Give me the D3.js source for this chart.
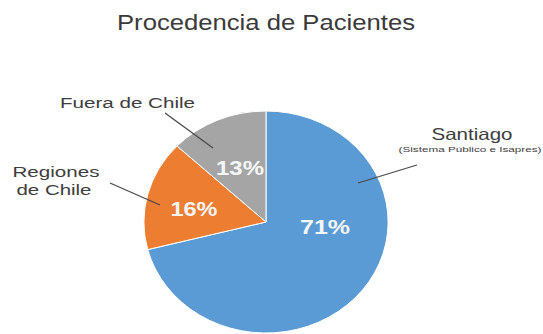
<!DOCTYPE html>
<html>
<head>
<meta charset="utf-8">
<title>Procedencia de Pacientes</title>
<script src="https://cdn.jsdelivr.net/npm/d3@7"></script>
<style>
  html, body { margin: 0; padding: 0; background: #ffffff; }
  svg { display: block; }
</style>
</head>
<body>
<script>
// Patient origin shares (percent), in drawing order clockwise from 12 o'clock
const categories = ["Santiago", "Regiones de Chile", "Fuera de Chile"];
const shares = [71, 16, 13];
const sliceColors = ["#5B9BD5", "#ED7D31", "#A5A5A5"];
const chartTitle = "Procedencia de Pacientes";

// Category label lines as they are written on the chart
const categoryLines = [
  ["Santiago", "(Sistema Público e Isapres)"],
  ["Regiones", "de Chile"],
  ["Fuera de Chile"]
];

const W = 543, H = 334;
const cx = 266, cy = 222, radius = 111, stretchX = 1.1;

const svg = d3.select("body").append("svg")
  .attr("width", W).attr("height", H)
  .attr("viewBox", `0 0 ${W} ${H}`);

const font = "'Liberation Sans', Arial, Helvetica, sans-serif";

// Title
svg.append("text")
  .attr("x", 266).attr("y", 30)
  .attr("text-anchor", "middle")
  .attr("font-family", font)
  .attr("font-size", 22)
  .attr("fill", "#3a3a3a")
  .attr("textLength", 298)
  .attr("lengthAdjust", "spacingAndGlyphs")
  .text(chartTitle);

// Pie
const pie = d3.pie().sort(null).value(d => d)(shares);
const arc = d3.arc().innerRadius(0).outerRadius(radius);

const pieG = svg.append("g")
  .attr("transform", `translate(${cx},${cy}) scale(${stretchX},1)`);

pieG.selectAll("path")
  .data(pie)
  .join("path")
  .attr("d", arc)
  .attr("fill", (d, i) => sliceColors[i])
  .attr("stroke", "#ffffff")
  .attr("stroke-width", 1)
  .attr("vector-effect", "non-scaling-stroke");

// Percentage labels inside the slices
const pctLayout = [
  { x: 325, y: 234, len: 50 },
  { x: 194, y: 216, len: 47 },
  { x: 240, y: 175, len: 48 }
];
svg.append("g").selectAll("text")
  .data(pie)
  .join("text")
  .attr("x", (d, i) => pctLayout[i].x)
  .attr("y", (d, i) => pctLayout[i].y)
  .attr("text-anchor", "middle")
  .attr("font-family", font)
  .attr("font-weight", "bold")
  .attr("font-size", 21)
  .attr("fill", "#f4f6f8")
  .attr("textLength", (d, i) => pctLayout[i].len)
  .attr("lengthAdjust", "spacingAndGlyphs")
  .text(d => d3.format(".0f")(d.value) + "%");

// Leader lines from category labels to slices
const leaders = [
  [[358, 183], [417, 165]],
  [[160, 205], [110, 183]],
  [[213, 148], [165, 113]]
];
svg.append("g").selectAll("line")
  .data(leaders)
  .join("line")
  .attr("x1", d => d[0][0]).attr("y1", d => d[0][1])
  .attr("x2", d => d[1][0]).attr("y2", d => d[1][1])
  .attr("stroke", "#4a4a4a")
  .attr("stroke-width", 1.3);

// Category labels
const labelLayout = [
  [{ x: 472, y: 140, size: 16.5, len: 81 }, { x: 470, y: 152, size: 8, len: 143 }],
  [{ x: 56, y: 177, size: 15.5, len: 87 }, { x: 54, y: 195, size: 15.5, len: 75 }],
  [{ x: 127.5, y: 108, size: 15.5, len: 135 }]
];
const labelG = svg.append("g");
categoryLines.forEach((lines, i) => {
  lines.forEach((line, j) => {
    const p = labelLayout[i][j];
    labelG.append("text")
      .attr("x", p.x).attr("y", p.y)
      .attr("text-anchor", "middle")
      .attr("font-family", font)
      .attr("font-size", p.size)
      .attr("fill", "#3d3d3d")
      .attr("textLength", p.len)
      .attr("lengthAdjust", "spacingAndGlyphs")
      .text(line);
  });
});
</script>
</body>
</html>
